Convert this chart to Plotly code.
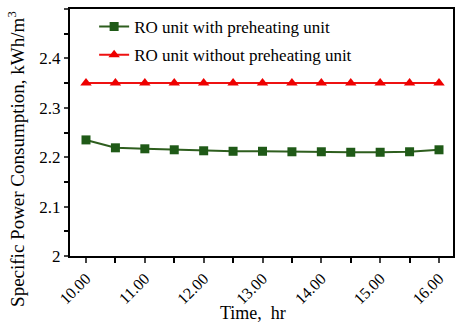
import plotly.graph_objects as go

time_hr = [10.0, 10.5, 11.0, 11.5, 12.0, 12.5, 13.0, 13.5, 14.0, 14.5, 15.0, 15.5, 16.0]
with_preheat = [2.235, 2.219, 2.217, 2.215, 2.213, 2.212, 2.212, 2.211, 2.211, 2.210, 2.210, 2.211, 2.215]
without_preheat = [2.35] * 13
tick_vals = [10, 11, 12, 13, 14, 15, 16]
tick_text = ["10.00", "11.00", "12.00", "13.00", "14.00", "15.00", "16.00"]

font = "Liberation Serif, Times New Roman, serif"

fig = go.Figure()
fig.add_trace(go.Scatter(x=time_hr, y=with_preheat, mode="lines+markers",
                         name="RO unit with preheating unit", legendgroup="a",
                         line=dict(color="#2e5e1e", width=2),
                         marker=dict(symbol="square", size=9, color="#1f5a17")))
fig.add_trace(go.Scatter(x=time_hr, y=without_preheat, mode="lines+markers",
                         name="RO unit without preheating unit", legendgroup="b",
                         line=dict(color="#ee1111", width=2),
                         marker=dict(symbol="triangle-up", size=10, color="#ee0000")))

fig.update_layout(
    width=457, height=328,
    margin=dict(l=70, r=4, t=9, b=72),
    paper_bgcolor="white", plot_bgcolor="white",
    font=dict(family=font, size=16, color="black"),
    legend=dict(x=0.063, y=1.0, xanchor="left", yanchor="top",
                bgcolor="rgba(0,0,0,0)", font=dict(size=17, family=font),
                itemwidth=30, traceorder="grouped", tracegroupgap=3),
    xaxis=dict(range=[9.728, 16.238], tickvals=tick_vals, ticktext=tick_text,
               tickangle=-45, ticks="outside", ticklen=5, tickwidth=2,
               showline=True, linewidth=2, linecolor="black", mirror=True,
               showgrid=False, zeroline=False, automargin=False,
               minor=dict(dtick=0.5, tick0=10, ticks="outside", ticklen=5, tickwidth=2, tickcolor="black"),
               tickfont=dict(size=16, family=font)),
    yaxis=dict(range=[2.0, 2.5], tickvals=[2.0, 2.1, 2.2, 2.3, 2.4, 2.5],
               ticktext=["2", "2.1", "2.2", "2.3", "2.4", "2.5"],
               ticks="outside", ticklen=4, tickwidth=2,
               showline=True, linewidth=2, linecolor="black", mirror=True,
               showgrid=False, zeroline=False, automargin=False,
               minor=dict(dtick=0.05, tick0=2.0, ticks="outside", ticklen=4, tickwidth=2, tickcolor="black"),
               tickfont=dict(size=17, family=font)),
    annotations=[
        dict(text="Specific Power Consumption, kWh/m<sup>3</sup>", xref="paper", yref="paper",
             x=-0.141, y=0.393, xanchor="center", yanchor="middle", textangle=-90,
             showarrow=False, font=dict(size=19, family=font)),
        dict(text="Time,  hr", xref="paper", yref="paper",
             x=0.479, y=-0.23, xanchor="center", yanchor="middle",
             showarrow=False, font=dict(size=18, family=font)),
    ],
)

fig.write_html("out.html", config={"displayModeBar": False},
               post_script="document.body.style.margin='0';document.body.style.padding='0';")
